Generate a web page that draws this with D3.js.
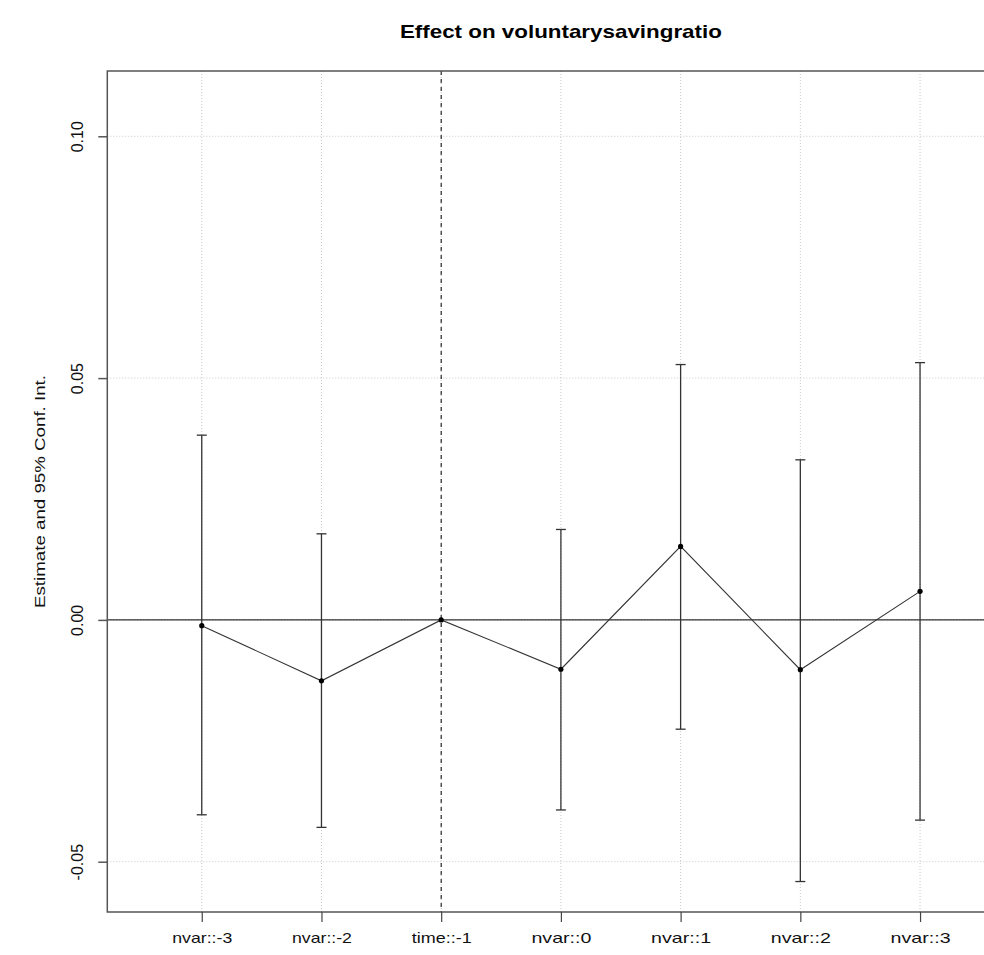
<!DOCTYPE html>
<html>
<head>
<meta charset="utf-8">
<script src="https://cdn.jsdelivr.net/npm/d3@7"></script>
<style>
  html, body { margin: 0; padding: 0; background: #fff; }
  svg { display: block; font-family: "Liberation Sans", Arial, sans-serif; }
</style>
</head>
<body>
<svg id="chart" width="984" height="955"></svg>
<script>
// Event-study coefficients with 95% confidence intervals
const terms     = ["nvar::-3", "nvar::-2", "time::-1", "nvar::0", "nvar::1", "nvar::2", "nvar::3"];
const estimates = [-0.0012, -0.0126, 0.0, -0.0102, 0.0152, -0.0103, 0.0059];
const ciLower   = [-0.0403, -0.0429, null, -0.0393, -0.0226, -0.0541, -0.0414];
const ciUpper   = [0.0382, 0.0178, null, 0.0187, 0.0528, 0.0331, 0.0532];
const yTicks    = [-0.05, 0.00, 0.05, 0.10];
const refTerm   = "time::-1";

const svg = d3.select("#chart");
const plot = { left: 107.3, right: 1014.5, top: 71, bottom: 912 };

const x = d3.scaleLinear().domain([0.211, 7.789]).range([plot.left, plot.right]);
const y = d3.scaleLinear().domain([-0.0604, 0.1135]).range([plot.bottom, plot.top]);

const rows = terms.map((t, i) => ({ term: t, pos: i + 1, est: estimates[i], lo: ciLower[i], hi: ciUpper[i] }));

// Grid
const grid = svg.append("g").attr("stroke", "#c8c8c8").attr("stroke-width", 1).attr("stroke-dasharray", "1,2");
grid.selectAll("line.v").data(rows).join("line")
  .attr("x1", d => x(d.pos)).attr("x2", d => x(d.pos))
  .attr("y1", plot.top).attr("y2", plot.bottom);
grid.selectAll("line.h").data(yTicks).join("line")
  .attr("x1", plot.left).attr("x2", plot.right)
  .attr("y1", d => y(d)).attr("y2", d => y(d));

// Zero reference line
svg.append("line")
  .attr("x1", plot.left).attr("x2", plot.right)
  .attr("y1", y(0)).attr("y2", y(0))
  .attr("stroke", "#000").attr("stroke-width", 1);

// Dashed vertical line at the reference period
const refPos = terms.indexOf(refTerm) + 1;
svg.append("line")
  .attr("x1", x(refPos)).attr("x2", x(refPos))
  .attr("y1", plot.top).attr("y2", plot.bottom)
  .attr("stroke", "#000").attr("stroke-width", 1).attr("stroke-dasharray", "4,4");

// Confidence intervals
const ci = rows.filter(d => d.lo !== null);
const bars = svg.append("g").attr("stroke", "#333").attr("stroke-width", 1.3);
bars.selectAll("line.ci").data(ci).join("line")
  .attr("x1", d => x(d.pos)).attr("x2", d => x(d.pos))
  .attr("y1", d => y(d.lo)).attr("y2", d => y(d.hi));
const capW = 5;
bars.selectAll("line.capHi").data(ci).join("line")
  .attr("x1", d => x(d.pos) - capW).attr("x2", d => x(d.pos) + capW)
  .attr("y1", d => y(d.hi)).attr("y2", d => y(d.hi));
bars.selectAll("line.capLo").data(ci).join("line")
  .attr("x1", d => x(d.pos) - capW).attr("x2", d => x(d.pos) + capW)
  .attr("y1", d => y(d.lo)).attr("y2", d => y(d.lo));

// Estimate line and points
svg.append("path").datum(rows)
  .attr("fill", "none").attr("stroke", "#333").attr("stroke-width", 1.1)
  .attr("d", d3.line().x(d => x(d.pos)).y(d => y(d.est)));
svg.selectAll("circle.pt").data(rows).join("circle")
  .attr("cx", d => x(d.pos)).attr("cy", d => y(d.est)).attr("r", 2.6).attr("fill", "#000");

// Plot box
svg.append("rect")
  .attr("x", plot.left).attr("y", plot.top)
  .attr("width", plot.right - plot.left).attr("height", plot.bottom - plot.top)
  .attr("fill", "none").attr("stroke", "#555").attr("stroke-width", 1.5);

// Axes
const axisFont = "'Liberation Sans', Arial, sans-serif";
const xAxis = d3.axisBottom(x).tickValues(rows.map(d => d.pos))
  .tickFormat(v => terms[v - 1]).tickSize(10).tickPadding(9);
const gx = svg.append("g").attr("transform", `translate(0,${plot.bottom})`).call(xAxis);
gx.select(".domain").remove();
gx.selectAll(".tick line").attr("stroke", "#444").attr("stroke-width", 1.2);
gx.selectAll(".tick text").attr("font-size", 15).attr("fill", "#111")
  .attr("font-family", axisFont).attr("dy", "0.8em")
  .attr("textLength", 60).attr("lengthAdjust", "spacingAndGlyphs");

// Plain hyphen-minus for negative tick labels
const fmt = v => d3.format(".2f")(v).replace("\u2212", "-");
const yAxis = d3.axisLeft(y).tickValues(yTicks).tickFormat(fmt).tickSize(9).tickPadding(0);
const gy = svg.append("g").attr("transform", `translate(${plot.left},0)`).call(yAxis);
gy.select(".domain").remove();
gy.selectAll(".tick line").attr("stroke", "#555").attr("stroke-width", 1.5);
gy.selectAll(".tick text")
  .attr("font-size", 16).attr("fill", "#111")
  .attr("font-family", axisFont)
  .attr("x", null).attr("dy", null)
  .attr("text-anchor", "middle")
  .attr("transform", "translate(-24,0) rotate(-90)");

// Titles
svg.append("text")
  .attr("x", (plot.left + plot.right) / 2).attr("y", 38)
  .attr("text-anchor", "middle").attr("font-size", 19).attr("font-weight", "bold")
  .attr("textLength", 322).attr("lengthAdjust", "spacingAndGlyphs")
  .text("Effect on voluntarysavingratio");

svg.append("text")
  .attr("transform", `translate(45,${(plot.top + plot.bottom) / 2}) rotate(-90)`)
  .attr("text-anchor", "middle").attr("font-size", 15).attr("fill", "#111")
  .attr("textLength", 233).attr("lengthAdjust", "spacingAndGlyphs")
  .text("Estimate and 95% Conf. Int.");
</script>
</body>
</html>
